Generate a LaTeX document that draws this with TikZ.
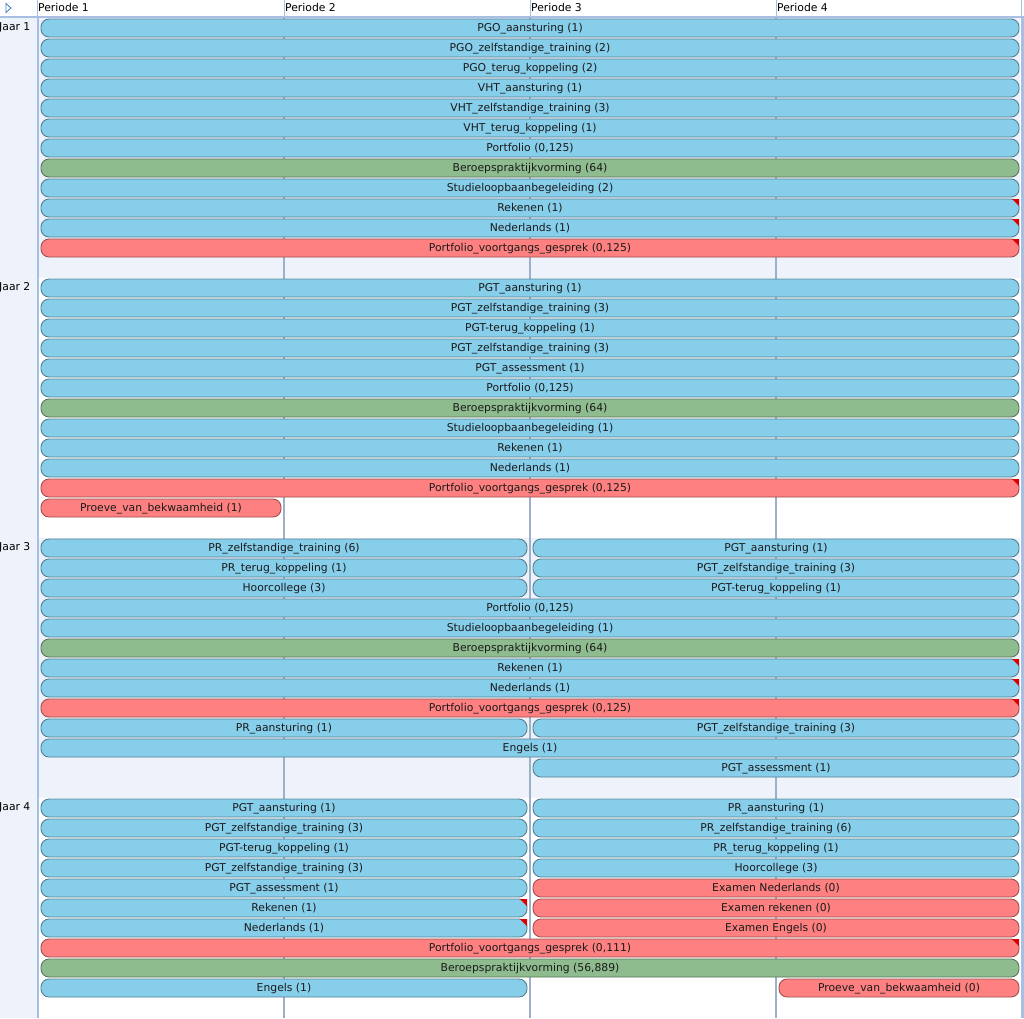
\documentclass[tikz,border=0pt]{standalone}
\usepackage{fontspec}
\setmainfont{DejaVu Sans}
\definecolor{barblue}{HTML}{87CEEB}
\definecolor{barred}{HTML}{FF8080}
\definecolor{bargreen}{HTML}{8FBC8F}
\definecolor{flagred}{HTML}{D80000}
\definecolor{lightbg}{HTML}{EEF2FA}
\definecolor{frameblue}{HTML}{A9BEE3}
\definecolor{gridline}{HTML}{9DB0C8}
\definecolor{iconblue}{HTML}{3E78C0}
\definecolor{textc}{HTML}{1A1A1A}
\newcommand\gbar[6]{\node[bar,#5,minimum width={#3-#2}] (#1) at ({(#2+#3)/2},#4) {#6};}
\newcommand\fbar[4]{\gbar{#1}{41}{1019}{#2}{#3}{#4}}
\newcommand\lbar[4]{\gbar{#1}{41}{527}{#2}{#3}{#4}}
\newcommand\rbar[4]{\gbar{#1}{533}{1019}{#2}{#3}{#4}}
\newcommand\gflag[1]{\fill[flagred] ([xshift=-7pt]#1.north east) -- (#1.north east) -- ([yshift=-7pt]#1.north east) -- cycle;}
\begin{document}
\begin{tikzpicture}[x=1pt,y=-1pt,
  font=\fontsize{10.8}{13}\selectfont,
  bar/.style={rounded corners=8pt, minimum height=18pt, inner sep=0pt, outer sep=0pt, line width=0.9pt, text=textc, text height=8pt, text depth=2pt},
  blu/.style={fill=barblue, draw=barblue!62!black},
  red/.style={fill=barred, draw=barred!62!black},
  grn/.style={fill=bargreen, draw=bargreen!62!black},
  hdr/.style={anchor=west, inner sep=0pt, text=black, text height=8pt, text depth=2pt},
  yr/.style={anchor=west, inner sep=0pt, text=black, text height=8pt, text depth=2pt}]
\useasboundingbox (0,0) rectangle (1024,1018);
% backgrounds
\fill[white] (0,0) rectangle (1024,1018);
\fill[lightbg] (0,17) rectangle (37,1018);
\fill[lightbg] (39,18) rectangle (1020,278);
\fill[lightbg] (39,538) rectangle (1020,798);
\fill[frameblue] (1020.5,17) rectangle (1024,1018);
% header
\draw[frameblue, line width=2pt] (0,16.5) -- (1024,16.5);
\foreach \x in {37,284,530,776,1021.5} \draw[frameblue, line width=1pt] (\x,0) -- (\x,16);
\draw[frameblue, line width=2.2pt] (38,16) -- (38,1018);
\draw[iconblue, line width=0.8pt, fill=white] (6,3.5) -- (11,8) -- (6,12.5) -- cycle;
\node[hdr] (p1) at (38,8) {Periode 1};
\node[hdr] (p2) at (285,8) {Periode 2};
\node[hdr] (p3) at (531,8) {Periode 3};
\node[hdr] (p4) at (777,8) {Periode 4};
% grid lines
\foreach \x in {284,530,776} \draw[gridline, line width=1.3pt] (\x,18) -- (\x,1018);
% year labels
\node[yr] (j1) at (-1,27) {Jaar 1};
\node[yr] (j2) at (-1,287) {Jaar 2};
\node[yr] (j3) at (-1,547) {Jaar 3};
\node[yr] (j4) at (-1,807) {Jaar 4};
% ---------- Jaar 1
\fbar{a1}{28}{blu}{PGO\_aansturing (1)}
\fbar{a2}{48}{blu}{PGO\_zelfstandige\_training (2)}
\fbar{a3}{68}{blu}{PGO\_terug\_koppeling (2)}
\fbar{a4}{88}{blu}{VHT\_aansturing (1)}
\fbar{a5}{108}{blu}{VHT\_zelfstandige\_training (3)}
\fbar{a6}{128}{blu}{VHT\_terug\_koppeling (1)}
\fbar{a7}{148}{blu}{Portfolio (0,125)}
\fbar{a8}{168}{grn}{Beroepspraktijkvorming (64)}
\fbar{a9}{188}{blu}{Studieloopbaanbegeleiding (2)}
\fbar{a10}{208}{blu}{Rekenen (1)}
\fbar{a11}{228}{blu}{Nederlands (1)}
\fbar{a12}{248}{red}{Portfolio\_voortgangs\_gesprek (0,125)}
\gflag{a10}\gflag{a11}\gflag{a12}
% ---------- Jaar 2
\fbar{b1}{288}{blu}{PGT\_aansturing (1)}
\fbar{b2}{308}{blu}{PGT\_zelfstandige\_training (3)}
\fbar{b3}{328}{blu}{PGT-terug\_koppeling (1)}
\fbar{b4}{348}{blu}{PGT\_zelfstandige\_training (3)}
\fbar{b5}{368}{blu}{PGT\_assessment (1)}
\fbar{b6}{388}{blu}{Portfolio (0,125)}
\fbar{b7}{408}{grn}{Beroepspraktijkvorming (64)}
\fbar{b8}{428}{blu}{Studieloopbaanbegeleiding (1)}
\fbar{b9}{448}{blu}{Rekenen (1)}
\fbar{b10}{468}{blu}{Nederlands (1)}
\fbar{b11}{488}{red}{Portfolio\_voortgangs\_gesprek (0,125)}
\gbar{b12}{41}{281}{508}{red}{Proeve\_van\_bekwaamheid (1)}
\gflag{b11}
% ---------- Jaar 3
\lbar{c1}{548}{blu}{PR\_zelfstandige\_training (6)}
\rbar{c2}{548}{blu}{PGT\_aansturing (1)}
\lbar{c3}{568}{blu}{PR\_terug\_koppeling (1)}
\rbar{c4}{568}{blu}{PGT\_zelfstandige\_training (3)}
\lbar{c5}{588}{blu}{Hoorcollege (3)}
\rbar{c6}{588}{blu}{PGT-terug\_koppeling (1)}
\fbar{c7}{608}{blu}{Portfolio (0,125)}
\fbar{c8}{628}{blu}{Studieloopbaanbegeleiding (1)}
\fbar{c9}{648}{grn}{Beroepspraktijkvorming (64)}
\fbar{c10}{668}{blu}{Rekenen (1)}
\fbar{c11}{688}{blu}{Nederlands (1)}
\fbar{c12}{708}{red}{Portfolio\_voortgangs\_gesprek (0,125)}
\lbar{c13}{728}{blu}{PR\_aansturing (1)}
\rbar{c14}{728}{blu}{PGT\_zelfstandige\_training (3)}
\fbar{c15}{748}{blu}{Engels (1)}
\rbar{c16}{768}{blu}{PGT\_assessment (1)}
\gflag{c10}\gflag{c11}\gflag{c12}
% ---------- Jaar 4
\lbar{d1}{808}{blu}{PGT\_aansturing (1)}
\rbar{d2}{808}{blu}{PR\_aansturing (1)}
\lbar{d3}{828}{blu}{PGT\_zelfstandige\_training (3)}
\rbar{d4}{828}{blu}{PR\_zelfstandige\_training (6)}
\lbar{d5}{848}{blu}{PGT-terug\_koppeling (1)}
\rbar{d6}{848}{blu}{PR\_terug\_koppeling (1)}
\lbar{d7}{868}{blu}{PGT\_zelfstandige\_training (3)}
\rbar{d8}{868}{blu}{Hoorcollege (3)}
\lbar{d9}{888}{blu}{PGT\_assessment (1)}
\rbar{d10}{888}{red}{Examen Nederlands (0)}
\lbar{d11}{908}{blu}{Rekenen (1)}
\rbar{d12}{908}{red}{Examen rekenen (0)}
\lbar{d13}{928}{blu}{Nederlands (1)}
\rbar{d14}{928}{red}{Examen Engels (0)}
\fbar{d15}{948}{red}{Portfolio\_voortgangs\_gesprek (0,111)}
\fbar{d16}{968}{grn}{Beroepspraktijkvorming (56,889)}
\lbar{d17}{988}{blu}{Engels (1)}
\gbar{d18}{779}{1019}{988}{red}{Proeve\_van\_bekwaamheid (0)}
\gflag{d11}\gflag{d13}\gflag{d15}
\end{tikzpicture}
\end{document}
